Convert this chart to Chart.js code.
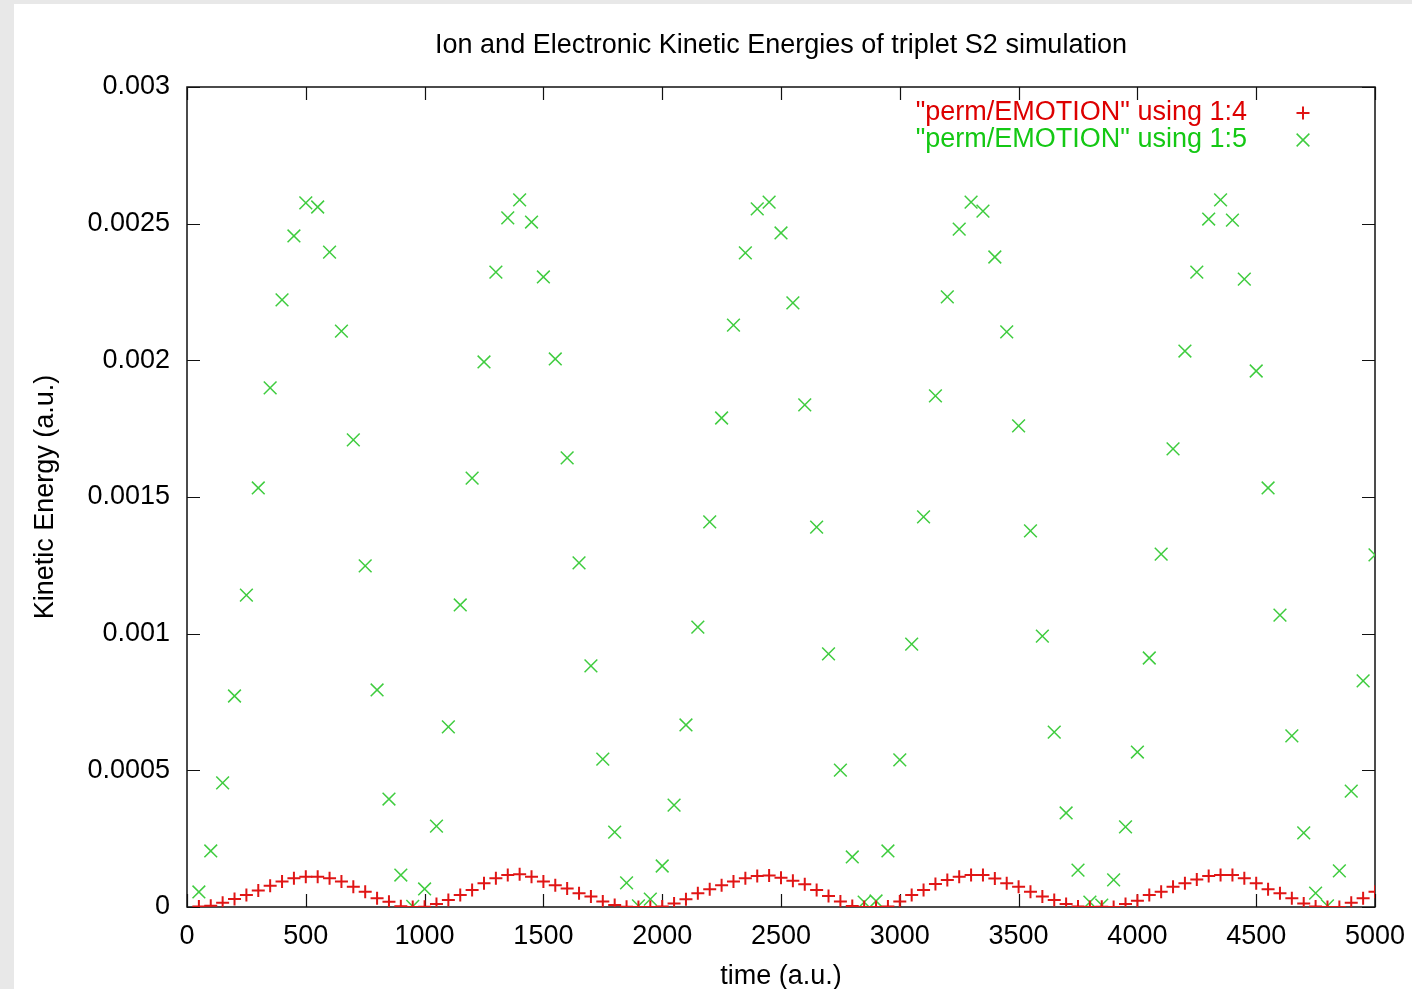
<!DOCTYPE html>
<html>
<head>
<meta charset="utf-8">
<script src="https://cdn.jsdelivr.net/npm/chart.js@4.4.1/dist/chart.umd.min.js"></script>
<style>
  html, body { margin:0; padding:0; background:#e8e8e8; width:1412px; height:989px; overflow:hidden; }
  #wrap { position:absolute; left:14px; top:4px; width:1398px; height:985px; background:#ffffff; }
  canvas { display:block; }
</style>
</head>
<body>
<div id="wrap"><canvas id="c" width="1398" height="985"></canvas></div>
<script>
// ---- data ----
const times = [50,100,150,200,250,300,350,400,450,500,550,600,650,700,750,800,850,900,950,1000,
  1050,1100,1150,1200,1250,1300,1350,1400,1450,1500,1550,1600,1650,1700,1750,1800,1850,1900,1950,2000,
  2050,2100,2150,2200,2250,2300,2350,2400,2450,2500,2550,2600,2650,2700,2750,2800,2850,2900,2950,3000,
  3050,3100,3150,3200,3250,3300,3350,3400,3450,3500,3550,3600,3650,3700,3750,3800,3850,3900,3950,4000,
  4050,4100,4150,4200,4250,4300,4350,4400,4450,4500,4550,4600,4650,4700,4750,4800,4850,4900,4950,5000];

const ionKE = [0.000002,0.000005,0.000016,0.000029,0.000044,0.000060,0.000078,0.000093,0.000105,0.000111,
  0.000111,0.000105,0.000093,0.000074,0.000056,0.000032,0.000019,0.000003,0.000000,0.000001,
  0.000011,0.000026,0.000044,0.000062,0.000087,0.000105,0.000117,0.000120,0.000111,0.000093,
  0.000080,0.000068,0.000050,0.000038,0.000020,0.000007,0.000001,0.000000,0.000000,0.000002,
  0.000013,0.000028,0.000050,0.000065,0.000080,0.000093,0.000105,0.000113,0.000115,0.000107,
  0.000096,0.000083,0.000062,0.000040,0.000020,0.000004,0.000000,0.000000,0.000002,0.000020,
  0.000044,0.000062,0.000084,0.000099,0.000111,0.000117,0.000117,0.000104,0.000087,0.000074,
  0.000056,0.000038,0.000026,0.000011,0.000002,0.000000,0.000001,0.000000,0.000011,0.000023,
  0.000044,0.000056,0.000074,0.000087,0.000101,0.000113,0.000117,0.000117,0.000105,0.000087,
  0.000065,0.000050,0.000032,0.000013,0.000002,0.000000,0.000000,0.000016,0.000032,0.000056];

const electronKE = [0.000055,0.000205,0.000454,0.000772,0.001141,0.001533,0.001899,0.002221,0.002455,0.002576,
  0.002561,0.002396,0.002107,0.001709,0.001248,0.000794,0.000395,0.000117,0.000002,0.000066,
  0.000296,0.000659,0.001105,0.001569,0.001994,0.002323,0.002521,0.002587,0.002506,0.002305,
  0.002005,0.001643,0.001259,0.000882,0.000541,0.000274,0.000088,0.000004,0.000029,0.000150,
  0.000373,0.000666,0.001024,0.001409,0.001789,0.002129,0.002393,0.002554,0.002579,0.002466,
  0.002210,0.001837,0.001390,0.000926,0.000501,0.000183,0.000018,0.000022,0.000205,0.000538,
  0.000962,0.001427,0.001870,0.002232,0.002480,0.002579,0.002546,0.002378,0.002104,0.001760,
  0.001376,0.000991,0.000640,0.000344,0.000135,0.000018,0.000007,0.000099,0.000293,0.000567,
  0.000911,0.001291,0.001676,0.002034,0.002323,0.002517,0.002587,0.002513,0.002297,0.001961,
  0.001533,0.001068,0.000626,0.000271,0.000051,0.000004,0.000132,0.000424,0.000827,0.001288];

const xTickLabels = ['0','500','1000','1500','2000','2500','3000','3500','4000','4500','5000'];
const yTickLabels = ['0','0.0005','0.001','0.0015','0.002','0.0025','0.003'];
const seriesLabels = ['"perm/EMOTION" using 1:4', '"perm/EMOTION" using 1:5'];
const titleText = 'Ion and Electronic Kinetic Energies of triplet S2 simulation';

// ---- build ----
const FONT = '"Liberation Sans", Arial, Helvetica, sans-serif';
const FS = 27;
const RED = '#e01515';
const GREEN = '#3fcc3f';
const LEGEND_COLORS = ['#dd0000', '#14c814'];

const toPts = (xs, ys) => xs.map((t, i) => ({x: t, y: ys[i]}));

const framePlugin = {
  id: 'frame',
  beforeDatasetsDraw(chart) {
    const {ctx, chartArea: a, scales: {x, y}} = chart;
    ctx.save();
    // title centred over the plot area
    ctx.fillStyle = '#000';
    ctx.font = FS + 'px ' + FONT;
    ctx.textAlign = 'center';
    ctx.textBaseline = 'middle';
    ctx.fillText(titleText, (a.left + a.right) / 2, 42);

    ctx.strokeStyle = '#111';
    ctx.lineWidth = 1.5;
    ctx.strokeRect(a.left, a.top, a.right - a.left, a.bottom - a.top);
    const L = 13;
    ctx.beginPath();
    x.ticks.forEach(t => {
      const px = Math.round(x.getPixelForValue(t.value)) + 0.5;
      ctx.moveTo(px, a.bottom); ctx.lineTo(px, a.bottom - L);
      ctx.moveTo(px, a.top); ctx.lineTo(px, a.top + L);
    });
    y.ticks.forEach(t => {
      const py = Math.round(y.getPixelForValue(t.value)) + 0.5;
      ctx.moveTo(a.left, py); ctx.lineTo(a.left + L, py);
      ctx.moveTo(a.right, py); ctx.lineTo(a.right - L, py);
    });
    ctx.lineWidth = 1.2;
    ctx.stroke();
    ctx.restore();
  }
};

const legendPlugin = {
  id: 'gpLegend',
  afterDatasetsDraw(chart) {
    const {ctx, chartArea: a} = chart;
    ctx.save();
    ctx.font = FS + 'px ' + FONT;
    ctx.textAlign = 'right';
    ctx.textBaseline = 'middle';
    chart.data.datasets.forEach((ds, i) => {
      const yy = a.top + 26 + i * 27;
      ctx.fillStyle = LEGEND_COLORS[i];
      ctx.fillText(ds.label, a.right - 128, yy);
      ctx.strokeStyle = ds.borderColor;
      ctx.fillStyle = ds.borderColor;
      ctx.lineWidth = ds.borderWidth;
      Chart.helpers.drawPoint(ctx, {pointStyle: ds.pointStyle, radius: ds.pointRadius, rotation: 0, borderWidth: ds.borderWidth}, a.right - 72, yy);
    });
    ctx.restore();
  }
};

new Chart(document.getElementById('c'), {
  type: 'scatter',
  data: {
    datasets: [
      {
        label: seriesLabels[0],
        data: toPts(times, ionKE),
        pointStyle: 'cross',
        pointRadius: 6.5,
        borderColor: RED,
        backgroundColor: RED,
        borderWidth: 2,
        pointHoverRadius: 6.5
      },
      {
        label: seriesLabels[1],
        data: toPts(times, electronKE),
        pointStyle: 'crossRot',
        pointRadius: 9,
        borderColor: GREEN,
        backgroundColor: GREEN,
        borderWidth: 1.5,
        pointHoverRadius: 9
      }
    ]
  },
  options: {
    responsive: false,
    animation: false,
    events: [],
    layout: { padding: { left: 0, top: 83, right: 37, bottom: 0 } },
    plugins: {
      legend: { display: false },
      tooltip: { enabled: false },
      title: { display: false }
    },
    scales: {
      x: {
        type: 'linear',
        min: 0, max: 5000,
        grid: { display: false, drawTicks: false },
        border: { display: false },
        ticks: {
          stepSize: 500,
          color: '#000',
          font: { family: FONT, size: FS },
          padding: 13,
          maxRotation: 0,
          callback: (v, i) => xTickLabels[i]
        },
        title: {
          display: true,
          text: 'time (a.u.)',
          color: '#000',
          font: { family: FONT, size: FS },
          padding: { top: 0, bottom: -4 }
        },
        afterFit: s => { s.height = 82; s.paddingLeft = 0; s.paddingRight = 0; }
      },
      y: {
        type: 'linear',
        min: 0, max: 0.003,
        grid: { display: false, drawTicks: false },
        border: { display: false },
        ticks: {
          stepSize: 0.0005,
          color: '#000',
          font: { family: FONT, size: FS },
          padding: 17,
          callback: (v, i) => yTickLabels[i]
        },
        title: {
          display: true,
          text: 'Kinetic Energy (a.u.)',
          color: '#000',
          font: { family: FONT, size: FS },
          padding: { top: 15, bottom: 0 }
        },
        afterFit: s => { s.width = 173; s.paddingTop = 0; s.paddingBottom = 0; }
      }
    }
  },
  plugins: [framePlugin, legendPlugin]
});
</script>
</body>
</html>
